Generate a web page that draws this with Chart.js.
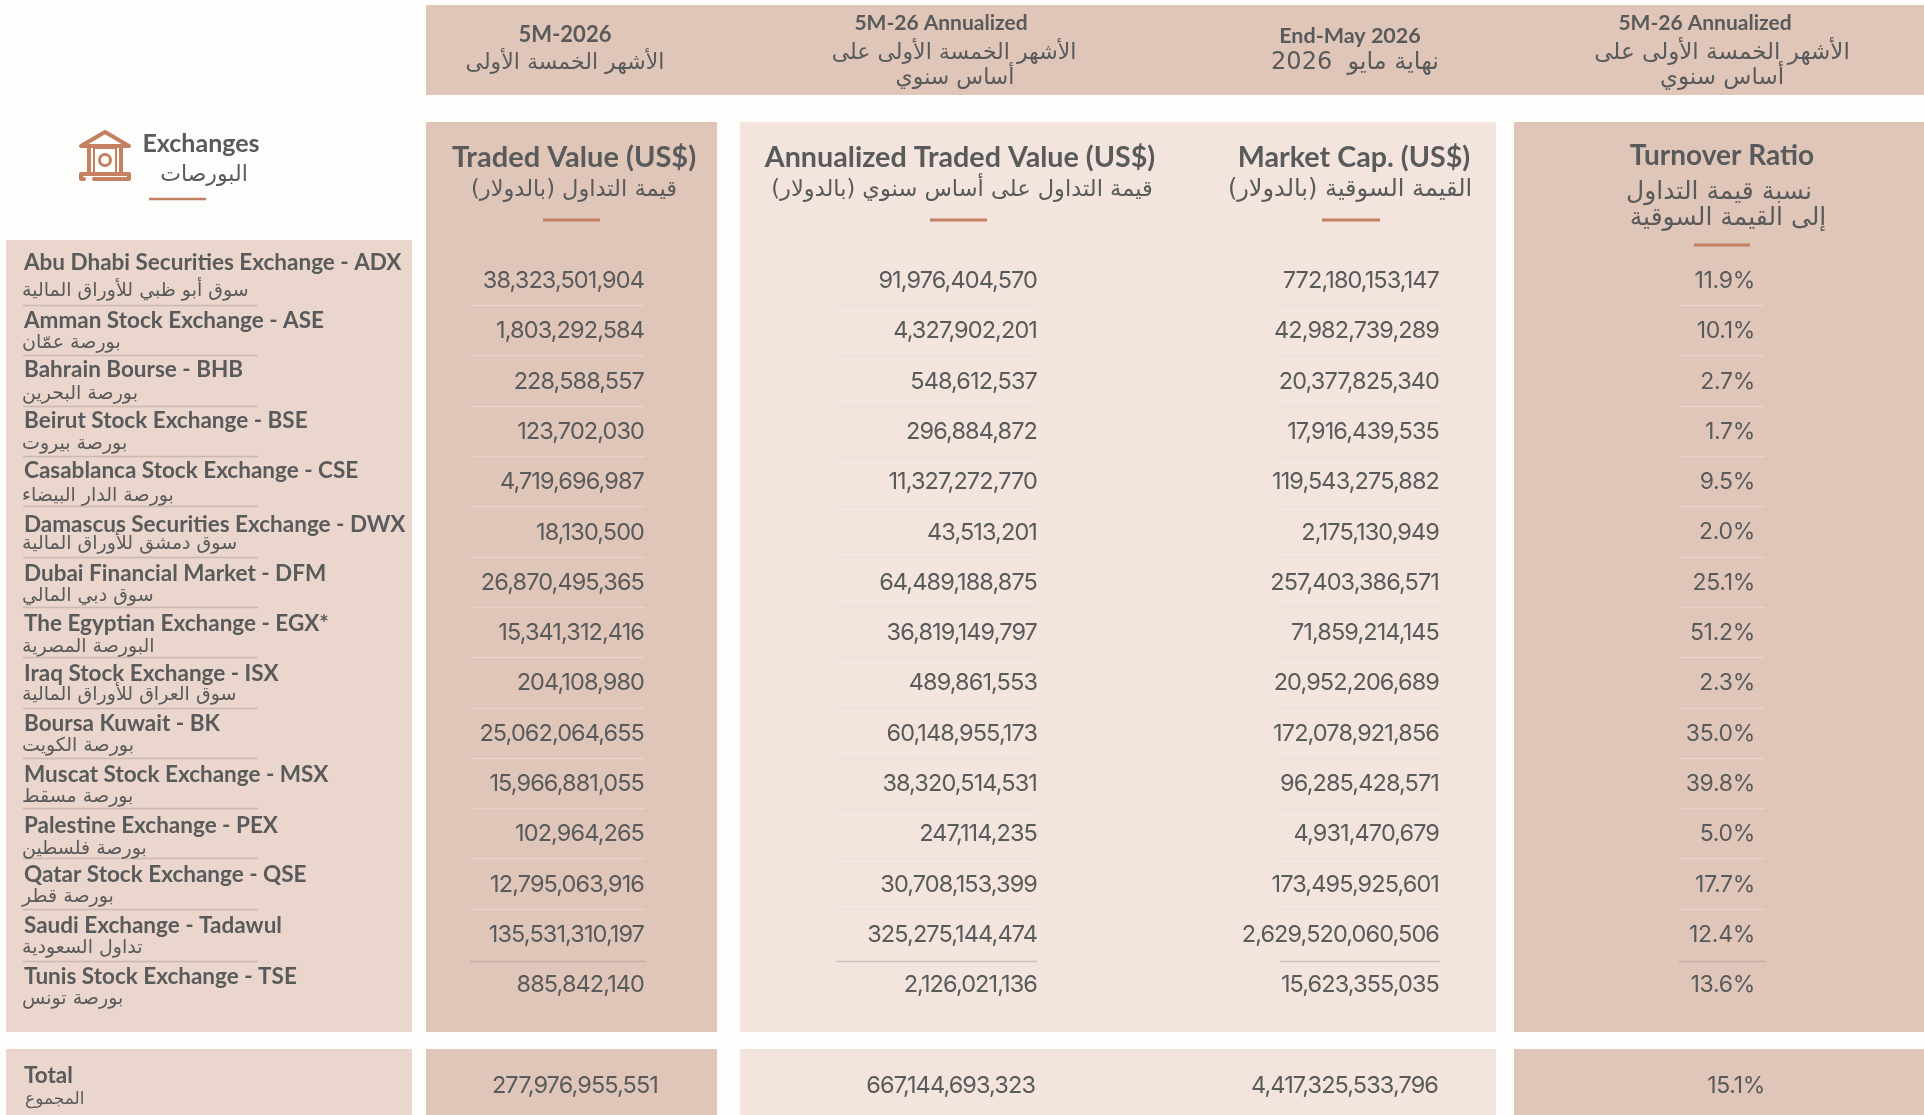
<!DOCTYPE html>
<html>
<head>
<meta charset="utf-8">
<title>Exchanges</title>
<style>
    html, body { margin: 0; padding: 0; background: #fdfdfc; }
    canvas { display: block; }
</style>
<script src="https://cdn.jsdelivr.net/npm/chart.js@4/dist/chart.umd.min.js"></script>
</head>
<body>
<canvas id="table" width="1924" height="1115"></canvas>
<script>
const exchangesEn = ['Abu Dhabi Securities Exchange - ADX', 'Amman Stock Exchange - ASE', 'Bahrain Bourse - BHB', 'Beirut Stock Exchange - BSE', 'Casablanca Stock Exchange - CSE', 'Damascus Securities Exchange - DWX', 'Dubai Financial Market - DFM', 'The Egyptian Exchange - EGX*', 'Iraq Stock Exchange - ISX', 'Boursa Kuwait - BK', 'Muscat Stock Exchange - MSX', 'Palestine Exchange - PEX', 'Qatar Stock Exchange - QSE', 'Saudi Exchange - Tadawul', 'Tunis Stock Exchange - TSE', 'Total']
const exchangesAr = ['سوق أبو ظبي للأوراق المالية', 'بورصة عمّان', 'بورصة البحرين', 'بورصة بيروت', 'بورصة الدار البيضاء', 'سوق دمشق للأوراق المالية', 'سوق دبي المالي', 'البورصة المصرية', 'سوق العراق للأوراق المالية', 'بورصة الكويت', 'بورصة مسقط', 'بورصة فلسطين', 'بورصة قطر', 'تداول السعودية', 'بورصة تونس', 'المجموع']
const tradedValue = [38323501904, 1803292584, 228588557, 123702030, 4719696987, 18130500, 26870495365, 15341312416, 204108980, 25062064655, 15966881055, 102964265, 12795063916, 135531310197, 885842140]
const annualizedValue = [91976404570, 4327902201, 548612537, 296884872, 11327272770, 43513201, 64489188875, 36819149797, 489861553, 60148955173, 38320514531, 247114235, 30708153399, 325275144474, 2126021136]
const marketCap = [772180153147, 42982739289, 20377825340, 17916439535, 119543275882, 2175130949, 257403386571, 71859214145, 20952206689, 172078921856, 96285428571, 4931470679, 173495925601, 2629520060506, 15623355035]
const turnoverRatio = [11.9, 10.1, 2.7, 1.7, 9.5, 2.0, 25.1, 51.2, 2.3, 35.0, 39.8, 5.0, 17.7, 12.4, 13.6]
const totals = [277976955551, 667144693323, 4417325533796, 15.1]

const sandDark = '#e0c6b9'
const sandMid = '#ead6cc'
const sandLight = '#f3e4dd'
const inkColor = '#595a5b'
const accent = '#c48060'
const latinFont = 'Lato, sans-serif'
const numberFont = 'Inter, sans-serif'
const arabicFont = '"DejaVu Sans", sans-serif'

const totalRow = 16
// the name lines do not sit evenly in the reference, small per row shifts in px
const nameNudge = [-17, -10, -11, -10, -10, -7, -8.5, -8.5, -8.5, -8.5, -8.5, -7.5, -8.5, -8.5, -7.5]
const arNudge = [11.5, 13, 13, 13, 14.5, 13, 14.5, 14.5, 13, 13, 14.5, 15.5, 13, 14.5, 14.5]

const money = v => v.toLocaleString('en-US')
const percent = v => v.toFixed(1) + '%'

// one scatter dataset per column, the labels are drawn at its points
function column(values, x, totalX, total, fmt, spacing, size) {
    return {
        data: values.map((v, i) => ({x: x, y: i})).concat({x: totalX, y: totalRow}),
        cellText: values.concat(total).map(fmt),
        cellSpacing: spacing,
        cellSize: size,
        pointRadius: 0
    }
}

function text(ctx, str, x, y, font, align, rtl) {
    ctx.font = font
    ctx.fillStyle = inkColor
    ctx.textAlign = align || 'center'
    ctx.textBaseline = 'middle'
    ctx.direction = rtl ? 'rtl' : 'ltr'
    ctx.fillText(str, x, y)
    ctx.direction = 'ltr'
}

function latin(ctx, str, x, y, size, weight, align) {
    text(ctx, str, x, y, weight + ' ' + size + 'px ' + latinFont, align)
}

function arabic(ctx, str, x, y, size) {
    text(ctx, str, x, y, size + 'px ' + arabicFont, 'center', true)
}

function rule(ctx, x1, x2, y, color, width) {
    ctx.strokeStyle = color
    ctx.lineWidth = width
    ctx.beginPath()
    ctx.moveTo(x1, y)
    ctx.lineTo(x2, y)
    ctx.stroke()
}

function drawIcon(ctx) {
    ctx.strokeStyle = accent
    ctx.lineWidth = 4
    ctx.lineCap = 'round'
    ctx.lineJoin = 'round'
    ctx.beginPath()
    ctx.moveTo(81, 146)
    ctx.lineTo(105, 132)
    ctx.lineTo(129, 146)
    ctx.moveTo(82, 146)
    ctx.lineTo(128, 146)
    ctx.moveTo(89, 148)
    ctx.lineTo(89, 172)
    ctx.moveTo(121, 148)
    ctx.lineTo(121, 172)
    ctx.moveTo(81, 179)
    ctx.lineTo(84, 179)
    ctx.moveTo(94, 179)
    ctx.lineTo(129, 179)
    ctx.moveTo(81, 179)
    ctx.lineTo(81, 174)
    ctx.lineTo(129, 174)
    ctx.lineTo(129, 179)
    ctx.stroke()
    ctx.lineWidth = 2
    ctx.strokeRect(94, 148, 22, 26)
    ctx.lineWidth = 3
    ctx.beginPath()
    ctx.arc(105, 160, 5.5, 0, Math.PI * 2)
    ctx.stroke()
    ctx.lineCap = 'butt'
}

// panels sit behind everything
const panels = {
    id: 'panels',
    beforeDatasetsDraw(chart) {
        const ctx = chart.ctx
        ctx.save()
        ctx.fillStyle = '#fdfdfc'
        ctx.fillRect(0, 0, 1924, 1115)
        ctx.fillStyle = sandDark
        ctx.fillRect(426, 5, 1498, 90)
        ;[[426, 291, sandDark], [740, 756, sandLight], [1514, 410, sandDark]].forEach(p => {
            ctx.fillStyle = p[2]
            ctx.fillRect(p[0], 122, p[1], 910)
            ctx.fillRect(p[0], 1049, p[1], 66)
        })
        ctx.fillStyle = sandMid
        ctx.fillRect(6, 240, 406, 792)
        ctx.fillRect(6, 1049, 406, 66)
        ctx.restore()
    }
}

const tableText = {
    id: 'tableText',
    afterDatasetsDraw(chart) {
        const ctx = chart.ctx
        const y = chart.scales.y
        ctx.save()

        // row separators
        const spans = [[23, 258, '#c9b9b0', '#c9b9b0'], [470, 645, '#e7d3c9', '#bfaca2'], [836, 1037, '#ece0da', '#cbc2bd'], [1280, 1440, '#ece0da', '#cbc2bd'], [1679, 1765, '#e7d3c9', '#bfaca2']]
        for (let i = 0; i < exchangesEn.length - 2; i++) {
            const last = i === exchangesEn.length - 3
            const py = Math.round(y.getPixelForValue(i + 0.5)) + (last ? 2 : 0)
            spans.forEach(s => rule(ctx, s[0], s[1], py + 0.5, last ? s[3] : s[2], 1.5))
        }

        // exchange names
        exchangesEn.forEach((name, i) => {
            if (i === exchangesEn.length - 1) {
                const py = y.getPixelForValue(totalRow)
                latin(ctx, name, 24, py - 9, 22.5, 700, 'left')
                text(ctx, exchangesAr[i], 25, py + 15, '17px ' + arabicFont, 'left')
            } else {
                const py = y.getPixelForValue(i)
                latin(ctx, name, 24, py + nameNudge[i], 22.5, 700, 'left')
                text(ctx, exchangesAr[i], 22, py + arNudge[i], '19px ' + arabicFont, 'left')
            }
        })

        // values
        chart.data.datasets.forEach((ds, d) => {
            ctx.letterSpacing = ds.cellSpacing + 'px'
            chart.getDatasetMeta(d).data.forEach((pt, i) => {
                text(ctx, ds.cellText[i], pt.x, pt.y + 1, '400 ' + ds.cellSize + 'px ' + numberFont, 'right')
            })
        })
        ctx.letterSpacing = '0px'

        // top band
        latin(ctx, '5M-2026', 565, 35, 22, 700)
        arabic(ctx, 'الأشهر الخمسة الأولى', 565, 63, 22)
        latin(ctx, '5M-26 Annualized', 941, 23, 21, 700)
        arabic(ctx, 'الأشهر الخمسة الأولى على', 954, 53, 22)
        arabic(ctx, 'أساس سنوي', 955, 78, 22)
        latin(ctx, 'End-May 2026', 1350, 36, 21.5, 700)
        arabic(ctx, 'نهاية مايو  2026', 1355, 63, 24)
        latin(ctx, '5M-26 Annualized', 1705, 23, 21, 700)
        arabic(ctx, 'الأشهر الخمسة الأولى على', 1722, 53, 23)
        arabic(ctx, 'أساس سنوي', 1722, 78, 23)

        // column titles
        latin(ctx, 'Traded Value (US$)', 574, 158, 29, 700)
        arabic(ctx, 'قيمة التداول (بالدولار)', 574, 190, 22.5)
        latin(ctx, 'Annualized Traded Value (US$)', 960, 158, 28.7, 700)
        arabic(ctx, 'قيمة التداول على أساس سنوي (بالدولار)', 962, 190, 22.5)
        latin(ctx, 'Market Cap. (US$)', 1354, 158, 28.7, 700)
        arabic(ctx, 'القيمة السوقية (بالدولار)', 1350, 190, 24)
        latin(ctx, 'Turnover Ratio', 1722, 156, 28, 700)
        arabic(ctx, 'نسبة قيمة التداول', 1719, 192, 25)
        arabic(ctx, 'إلى القيمة السوقية', 1728, 218, 25)
        ;[[543, 600, 220], [930, 987, 220], [1322, 1380, 220], [1694, 1750, 245]].forEach(r => rule(ctx, r[0], r[1], r[2], accent, 3))

        // exchanges heading and icon
        latin(ctx, 'Exchanges', 201, 144, 25, 700)
        arabic(ctx, 'البورصات', 204, 175, 22)
        rule(ctx, 149, 206, 199, accent, 2.5)
        drawIcon(ctx)
        ctx.restore()
    }
}

new Chart(document.getElementById('table').getContext('2d'), {
    type: 'scatter',
    data: {
        datasets: [
            column(tradedValue, 644, 658, totals[0], money, -0.9, 23.5),
            column(annualizedValue, 1037, 1035, totals[1], money, -0.9, 23.5),
            column(marketCap, 1439, 1438, totals[2], money, -0.9, 23.5),
            column(turnoverRatio, 1755, 1765, totals[3], percent, -0.3, 23)
        ]
    },
    options: {
        responsive: false,
        animation: false,
        layout: {padding: 0},
        plugins: {legend: {display: false}, title: {display: false}, tooltip: {enabled: false}},
        scales: {
            x: {type: 'linear', display: false, min: 0, max: 1924},
            // rows are 50.3px apart, first row centre at 280px
            y: {type: 'linear', display: false, reverse: true, min: -5.567, max: 16.6}
        }
    },
    plugins: [panels, tableText]
})
</script>
</body>
</html>
